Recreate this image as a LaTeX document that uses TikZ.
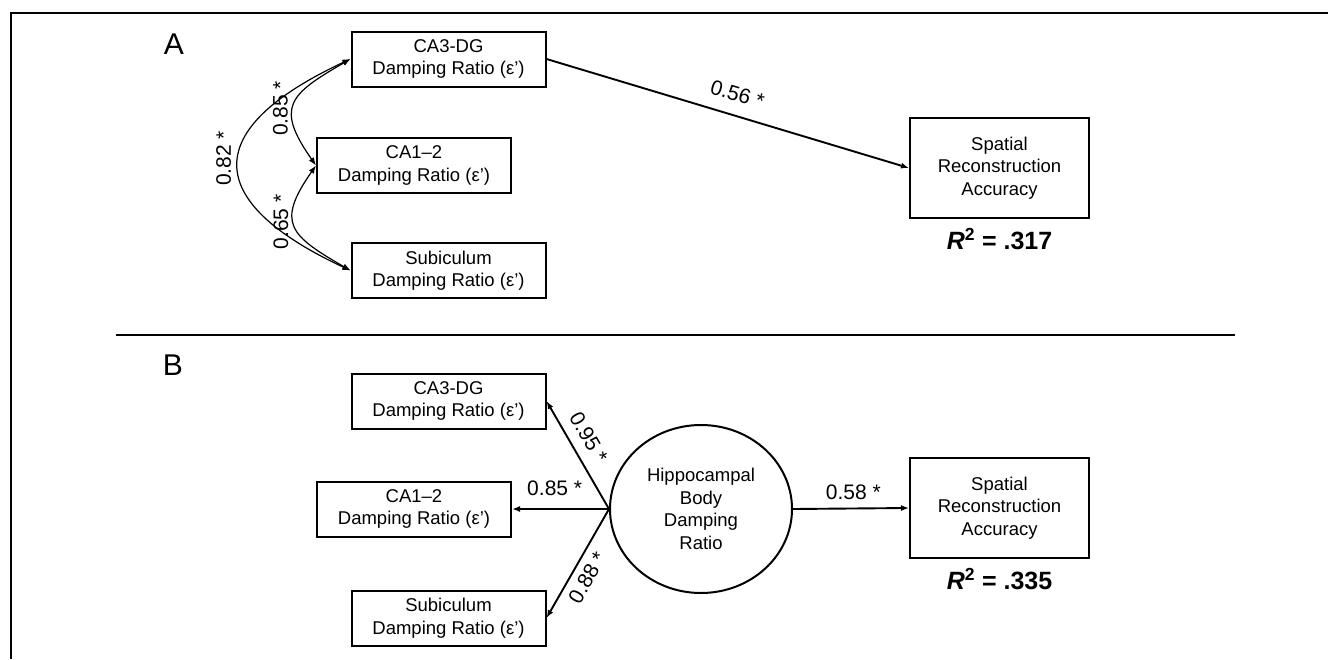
\documentclass[tikz,border=0pt]{standalone}
\usepackage{fontspec}
\setmainfont{Liberation Sans}
\usepackage{tikz}
\usetikzlibrary{positioning,shapes.geometric,arrows.meta}
\newcommand{\boxfont}{\fontsize{18.5}{22.5}\selectfont}
\newcommand{\coeffont}{\fontsize{21}{22}\selectfont}
\newcommand{\panelfont}{\fontsize{30}{30}\selectfont}
\newcommand{\rsqfont}{\fontsize{25}{26}\selectfont\bfseries}

\begin{document}
\begin{tikzpicture}[x=1pt,y=1pt]
\tikzstyle{box}=[rectangle, draw=black, line width=2pt, minimum width=194pt, minimum height=55pt, align=center, font=\boxfont, inner sep=2pt]
\tikzstyle{outcome}=[box, minimum width=179pt, minimum height=100pt]
\tikzstyle{latent}=[ellipse, draw=black, line width=2pt, minimum width=182pt, minimum height=168pt, align=center, font=\boxfont, inner sep=0pt]
\tikzstyle{connect}=[-{Latex[length=8pt,width=6pt]}, line width=1.9pt]
\tikzstyle{cov}=[{Latex[length=8pt,width=6pt]}-{Latex[length=8pt,width=6pt]}, line width=1.2pt]
\tikzstyle{coef}=[font=\coeffont, inner sep=2pt]
\tikzstyle{rsq}=[font=\rsqfont, label distance=6pt]
\useasboundingbox (0,0) rectangle (1328,-659);
% frame and the rule between the panels
\draw[line width=2.8pt] (11,-659) -- (11,-13) -- (1328,-13);
\draw[line width=2.8pt] (116,-335) -- (1235,-335);
\node[font=\panelfont] (labA) at (174,-44) {A};
\node[font=\panelfont] (labB) at (173,-365) {B};
% panel A: correlated subfields
\node[box] (ca3A) at (448.5,-59) {CA3-DG\\Damping Ratio (ε’)};
\node[box] (ca1A) at (414,-165.5) {CA1–2\\Damping Ratio (ε’)};
\node[box] (subA) at (448.5,-270.5) {Subiculum\\Damping Ratio (ε’)};
\node[outcome, label={[rsq]below:{\textit{R}\textsuperscript{2} = .317}}] (sprA) at (999.5,-168) {Spatial\\Reconstruction\\Accuracy};
\draw[connect] (ca3A.east) -- node[coef, sloped, above=11pt, pos=0.51] {0.56 *} (sprA.west);
\draw[cov] (ca3A.west) to[out=210, in=125, looseness=1.63] node[coef, pos=0.55, rotate=90, anchor=south, inner sep=5pt] {0.85 *} (ca1A.west);
\draw[cov] (ca1A.west) to[out=235, in=150, looseness=1.63] node[coef, pos=0.45, rotate=90, anchor=south, inner sep=5pt] {0.65 *} (subA.west);
\draw[cov] (ca3A.west) to[out=205, in=155, looseness=2] node[coef, pos=0.47, rotate=90, anchor=south, inner sep=7pt] {0.82 *} (subA.west);
% panel B: latent factor
\node[latent] (hip) at (701,-509) {Hippocampal\\Body\\Damping\\Ratio};
\node[box] (ca3B) at (448.5,-401) {CA3-DG\\Damping Ratio (ε’)};
\node[box] (ca1B) at (414,-509) {CA1–2\\Damping Ratio (ε’)};
\node[box] (subB) at (448.5,-618) {Subiculum\\Damping Ratio (ε’)};
\node[outcome, label={[rsq]below:{\textit{R}\textsuperscript{2} = .335}}] (sprB) at (999.5,-508) {Spatial\\Reconstruction\\Accuracy};
\draw[connect] (hip.west) -- node[coef, sloped, above=8pt, pos=0.58] {0.95 *} (ca3B.east);
\draw[connect] (hip.west) -- node[coef, above=10pt, pos=0.56] {0.85 *} (ca1B.east);
\draw[connect] (hip.west) -- node[coef, sloped, below=5pt, pos=0.56] {0.88 *} (subB.east);
\draw[connect] (hip.east) -- node[coef, above=6pt, pos=0.52] {0.58 *} (sprB.west);
\end{tikzpicture}
\end{document}
